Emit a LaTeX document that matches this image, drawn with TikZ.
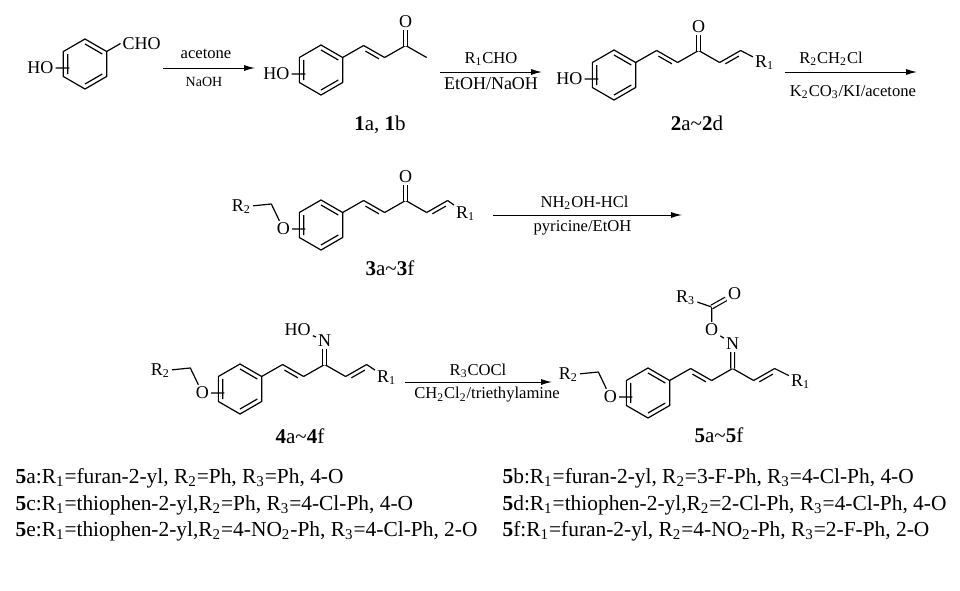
\documentclass[tikz,border=0pt]{standalone}
\usepackage{fontspec}
\setmainfont{Liberation Serif}
\usetikzlibrary{calc,arrows.meta}

% benzene ring: name, centre
\newcommand{\benz}[2]{%
  \coordinate (#1c) at (#2);
  \foreach \k/\ang in {1/-90,2/-30,3/30,4/90,5/150,6/210}
    {\coordinate (#1\k) at ($(#1c)+(\ang:25)$);}
  \draw (#11)--(#12)--(#13)--(#14)--(#15)--(#16)--cycle;
  \draw ($(#1c)!0.8!(#11)$)--($(#1c)!0.8!(#12)$)
        ($(#1c)!0.8!(#13)$)--($(#1c)!0.8!(#14)$)
        ($(#1c)!0.8!(#15)$)--($(#1c)!0.8!(#16)$);
  \coordinate (#1x) at ($(#15)!0.5!(#16)+(6,4)$);}
% trans C=C, second line below
\newcommand{\ene}[2]{\draw (#1)--(#2)
  ($(#1)!0.18!(#2)!2pt!-90:(#2)$)--($(#2)!0.18!(#1)!2pt!90:(#1)$);}
% zig-zag after ring vertex 2
\newcommand{\chain}[1]{%
  \coordinate (#17) at ($(#12)+(21,-12)$);
  \coordinate (#18) at ($(#17)+(21,12)$);
  \coordinate (#19) at ($(#18)+(21,-12)$);
  \coordinate (#1u) at ($(#19)+(21,12)$);
  \coordinate (#1v) at ($(#1u)+(21,-12)$);}

\begin{document}
\begin{tikzpicture}[x=0.5pt,y=-0.5pt,line width=0.6pt,line join=round]
\tikzstyle{atom}=[inner sep=0.8pt,font=\fontsize{9}{10}\selectfont]
\tikzstyle{reag}=[inner sep=0.5pt,font=\fontsize{8.3}{10}\selectfont]
\tikzstyle{cpd}=[inner sep=0.5pt,font=\fontsize{10.5}{12}\selectfont]
\tikzstyle{legend}=[anchor=base west,inner sep=0pt,font=\fontsize{10.7}{13}\selectfont]
\tikzstyle{rxn}=[line width=0.5pt,-{Latex[length=5.5pt,width=3pt]}]
\tikzstyle{dbond}=[double,double distance=1.3pt]
\fill[white] (0,0) rectangle (960,590);
\useasboundingbox (0,0) rectangle (960,590);

% row 1
\benz{a}{85,64}
\coordinate (ab) at ($(a2)+(-30:16)$);
\node[atom,anchor=west] (acho) at (ab) {CHO};
\node[atom] (aho) at ($(ax)+(-29,0)$) {HO};
\draw (a2)--(ab) (aho)--(ax);

\coordinate (s1) at (163,68);
\coordinate (t1) at (255,68);
\draw[rxn] (s1)--(t1);
\node[reag] (k1) at ($(s1)!0.5!(t1)+(-3,-14)$) {acetone};
\node[reag,font=\fontsize{7}{8}\selectfont] (k2) at ($(s1)!0.5!(t1)+(-5,14)$) {NaOH};

\benz{p}{321,70}
\chain{p}
\node[atom] (po) at ($(p9)+(0,-24)$) {O};
\node[atom] (pho) at ($(px)+(-29,0)$) {HO};
\draw (p2)--(p7) (p8)--(p9)--(pu) (pho)--(px);
\ene{p7}{p8}
\draw[dbond] (p9)--(po);
\node[cpd] (l1) at (380,125) {\textbf{1}a, \textbf{1}b};

\coordinate (s2) at (440,72);
\coordinate (t2) at (542,72);
\draw[rxn] (s2)--(t2);
\node[reag] (k3) at ($(s2)!0.5!(t2)+(0,-13)$) {R\textsubscript{1}CHO};
\node[reag,font=\fontsize{9}{10}\selectfont] (k4) at ($(s2)!0.5!(t2)+(0,12)$) {EtOH/NaOH};

\benz{q}{614,75}
\chain{q}
\node[atom] (qo) at ($(q9)+(0,-24)$) {O};
\node[atom] (qr) at ($(qv)+(24,12.5)$) {R\textsubscript{1}};
\node[atom] (qho) at ($(qx)+(-29,0)$) {HO};
\draw (q2)--(q7) (q8)--(q9)--(qu) (qv)--(qr) (qho)--(qx);
\ene{q7}{q8}
\ene{qu}{qv}
\draw[dbond] (q9)--(qo);
\node[cpd] (l2) at (697,123) {\textbf{2}a\textasciitilde\textbf{2}d};

\coordinate (s3) at (785,72);
\coordinate (t3) at (917,72);
\draw[rxn] (s3)--(t3);
\node[reag] (k5) at ($(s3)+(46,-13)$) {R\textsubscript{2}CH\textsubscript{2}Cl};
\node[reag] (k6) at ($(s3)+(68,20)$) {K\textsubscript{2}CO\textsubscript{3}/KI/acetone};

% row 2
\benz{s}{321,225}
\chain{s}
\node[atom] (so) at ($(sx)+(-22,0)$) {O};
\coordinate (sm) at ($(so)+(-12,-25)$);
\node[atom] (sr) at ($(so)+(-42,-22)$) {R\textsubscript{2}};
\node[atom] (sk) at ($(s9)+(0,-24)$) {O};
\node[atom] (sq) at ($(sv)+(18,13)$) {R\textsubscript{1}};
\draw (sr)--(sm)--(so) (so)--(sx);
\draw (s2)--(s7) (s8)--(s9)--(su) (sv)--(sq);
\ene{s7}{s8}
\ene{su}{sv}
\draw[dbond] (s9)--(sk);
\node[cpd] (l3) at (390,268) {\textbf{3}a\textasciitilde\textbf{3}f};

\coordinate (s4) at (493,215);
\coordinate (t4) at (682,215);
\draw[rxn] (s4)--(t4);
\node[reag] (k7) at ($(s4)!0.5!(t4)+(-3,-12)$) {NH\textsubscript{2}OH-HCl};
\node[reag] (k8) at ($(s4)!0.5!(t4)+(-5,13)$) {pyricine/EtOH};

% row 3
\benz{f}{240,389}
\chain{f}
\node[atom] (fo) at ($(fx)+(-22,0)$) {O};
\coordinate (fm) at ($(fo)+(-12,-25)$);
\node[atom] (fr) at ($(fo)+(-42,-22)$) {R\textsubscript{2}};
\node[atom] (fn) at ($(f9)+(0,-24)$) {N};
\node[atom] (fho) at ($(fn)+(-27,-11)$) {HO};
\node[atom] (fq) at ($(fv)+(20,13.5)$) {R\textsubscript{1}};
\draw (fr)--(fm)--(fo) (fo)--(fx);
\draw (f2)--(f7) (f8)--(f9)--(fu) (fv)--(fq) (fho)--(fn);
\ene{f7}{f8}
\ene{fu}{fv}
\draw[dbond] (f9)--(fn);
\node[cpd] (l4) at (300,436) {\textbf{4}a\textasciitilde\textbf{4}f};

\coordinate (s5) at (405,382);
\coordinate (t5) at (552,382);
\draw[rxn] (s5)--(t5);
\node[reag] (k9) at ($(s5)+(73,-11)$) {R\textsubscript{3}COCl};
\node[reag] (k10) at ($(s5)+(82,13)$) {CH\textsubscript{2}Cl\textsubscript{2}/triethylamine};

\benz{g}{648,393}
\chain{g}
\node[atom] (go) at ($(gx)+(-22,0)$) {O};
\coordinate (gm) at ($(go)+(-12,-25)$);
\node[atom] (gr) at ($(go)+(-42,-22)$) {R\textsubscript{2}};
\node[atom] (gn) at ($(g9)+(0,-24.5)$) {N};
\node[atom] (ge) at ($(gn)+(-21,-14)$) {O};
\coordinate (gk) at ($(ge)+(0,-23)$);
\node[atom] (gt) at ($(gk)+(-26,-9)$) {R\textsubscript{3}};
\node[atom] (gp) at ($(gk)+(23,-13)$) {O};
\node[atom] (gq) at ($(gv)+(26,13)$) {R\textsubscript{1}};
\draw (gr)--(gm)--(go) (go)--(gx);
\draw (g2)--(g7) (g8)--(g9)--(gu) (gv)--(gq);
\draw (gn)--(ge)--(gk) (gt)--(gk);
\ene{g7}{g8}
\ene{gu}{gv}
\draw[dbond] (g9)--(gn) (gk)--(gp);
\node[cpd] (l5) at (719,435) {\textbf{5}a\textasciitilde\textbf{5}f};

% substituents
\node[legend] (n5a) at (15,483) {\textbf{5}a:R\textsubscript{1}=furan-2-yl, R\textsubscript{2}=Ph, R\textsubscript{3}=Ph, 4-O};
\node[legend] (n5c) at (15,510) {\textbf{5}c:R\textsubscript{1}=thiophen-2-yl,R\textsubscript{2}=Ph, R\textsubscript{3}=4-Cl-Ph, 4-O};
\node[legend] (n5e) at (15,536) {\textbf{5}e:R\textsubscript{1}=thiophen-2-yl,R\textsubscript{2}=4-NO\textsubscript{2}-Ph, R\textsubscript{3}=4-Cl-Ph, 2-O};
\node[legend] (n5b) at (502,483) {\textbf{5}b:R\textsubscript{1}=furan-2-yl, R\textsubscript{2}=3-F-Ph, R\textsubscript{3}=4-Cl-Ph, 4-O};
\node[legend] (n5d) at (502,510) {\textbf{5}d:R\textsubscript{1}=thiophen-2-yl,R\textsubscript{2}=2-Cl-Ph, R\textsubscript{3}=4-Cl-Ph, 4-O};
\node[legend] (n5f) at (502,536) {\textbf{5}f:R\textsubscript{1}=furan-2-yl, R\textsubscript{2}=4-NO\textsubscript{2}-Ph, R\textsubscript{3}=2-F-Ph, 2-O};
\end{tikzpicture}
\end{document}
